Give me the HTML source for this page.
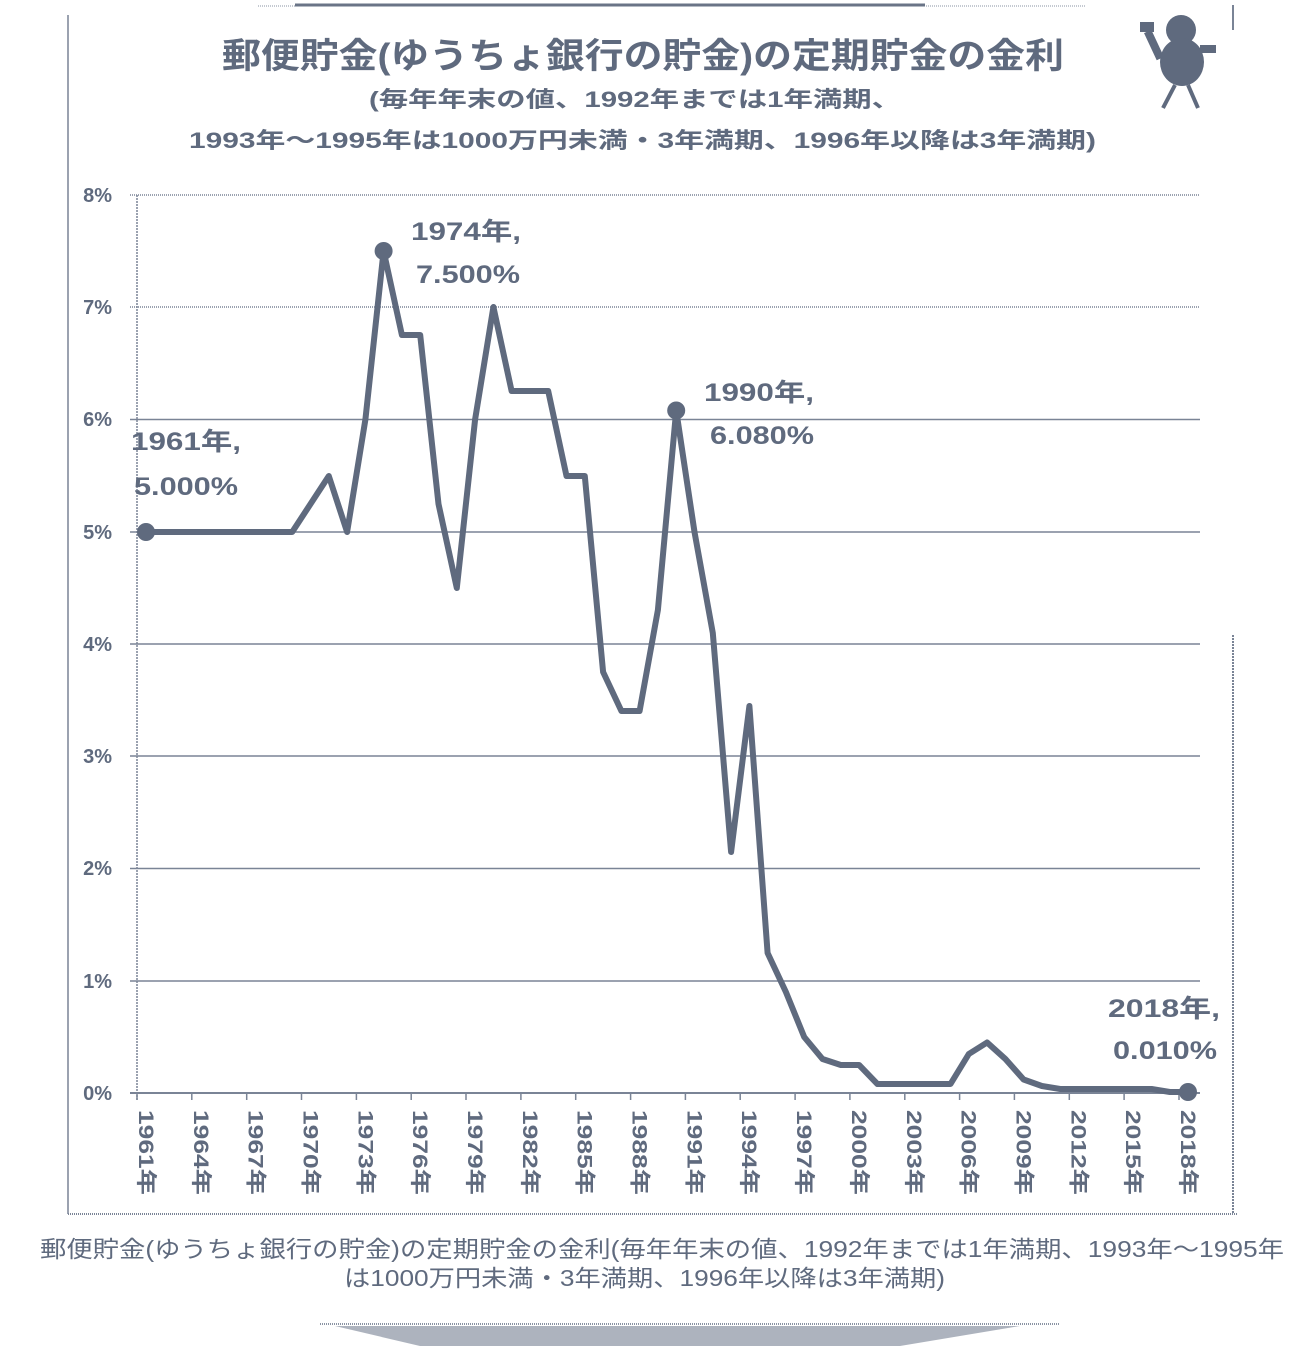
<!DOCTYPE html>
<html><head><meta charset="utf-8"><style>
html,body{margin:0;padding:0;background:#fff;}
body{width:1300px;height:1346px;overflow:hidden;}
svg text{font-family:"Liberation Sans","Noto Sans CJK JP",sans-serif;fill:#5f6a7e;}
</style></head><body>
<svg width="1300" height="1346" viewBox="0 0 1300 1346" xmlns="http://www.w3.org/2000/svg">
<rect width="1300" height="1346" fill="#fff"/>
<!-- frame -->
<line x1="258" y1="6" x2="1085" y2="6" stroke="#8a93a3" stroke-width="1" stroke-dasharray="1 1"/>
<line x1="295" y1="5" x2="925" y2="5" stroke="#6a7487" stroke-width="3"/>
<line x1="68" y1="15" x2="68" y2="1214" stroke="#7a8496" stroke-width="1.5"/>
<line x1="68" y1="1214" x2="1237" y2="1214" stroke="#7a8496" stroke-width="2" stroke-dasharray="1 1"/>
<line x1="1233" y1="635" x2="1233" y2="1214" stroke="#7a8496" stroke-width="2" stroke-dasharray="2 1"/>
<line x1="1233" y1="5" x2="1233" y2="30" stroke="#7a8496" stroke-width="2"/>
<!-- titles -->
<text x="222" y="68" font-size="35" font-weight="bold" textLength="842" lengthAdjust="spacingAndGlyphs">郵便貯金(ゆうちょ銀行の貯金)の定期貯金の金利</text>
<text x="369" y="107" font-size="22" font-weight="bold" textLength="532" lengthAdjust="spacingAndGlyphs">(毎年年末の値、1992年までは1年満期、</text>
<text x="189" y="148" font-size="22" font-weight="bold" textLength="907" lengthAdjust="spacingAndGlyphs">1993年～1995年は1000万円未満・3年満期、1996年以降は3年満期)</text>
<!-- mascot -->
<g fill="#5f6a7e">
<ellipse cx="1181" cy="30" rx="15" ry="15"/>
<ellipse cx="1182" cy="62" rx="22" ry="24"/>
<rect x="1140" y="22" width="14" height="10"/>
<rect x="1150" y="30" width="8" height="30" transform="rotate(-25 1154 45)"/>
<rect x="1200" y="45" width="16" height="8"/>
<line x1="1175" y1="85" x2="1163" y2="108" stroke="#5f6a7e" stroke-width="4"/>
<line x1="1188" y1="85" x2="1198" y2="108" stroke="#5f6a7e" stroke-width="4"/>
</g>
<!-- gridlines -->
<g stroke="#7a8496" stroke-width="1.5">
<line x1="130" y1="195" x2="1200" y2="195" stroke-dasharray="1 1"/>
<line x1="130" y1="307" x2="1200" y2="307" stroke-dasharray="1 1"/>
<line x1="130" y1="419.5" x2="1200" y2="419.5"/>
<line x1="130" y1="532" x2="1200" y2="532"/>
<line x1="130" y1="644" x2="1200" y2="644"/>
<line x1="130" y1="756" x2="1200" y2="756"/>
<line x1="130" y1="868.5" x2="1200" y2="868.5"/>
<line x1="130" y1="981" x2="1200" y2="981"/>
<line x1="130" y1="1093" x2="1200" y2="1093" stroke-width="2"/>
<line x1="137" y1="195" x2="137" y2="1100" stroke-dasharray="2 1"/>
</g>
<g stroke="#7a8496" stroke-width="1.5">
<line x1="137" y1="1093" x2="137" y2="1100"/><line x1="191.8" y1="1093" x2="191.8" y2="1100"/><line x1="246.7" y1="1093" x2="246.7" y2="1100"/><line x1="301.5" y1="1093" x2="301.5" y2="1100"/><line x1="356.4" y1="1093" x2="356.4" y2="1100"/><line x1="411.2" y1="1093" x2="411.2" y2="1100"/><line x1="466" y1="1093" x2="466" y2="1100"/><line x1="520.9" y1="1093" x2="520.9" y2="1100"/><line x1="575.7" y1="1093" x2="575.7" y2="1100"/><line x1="630.6" y1="1093" x2="630.6" y2="1100"/><line x1="685.4" y1="1093" x2="685.4" y2="1100"/><line x1="740.2" y1="1093" x2="740.2" y2="1100"/><line x1="795.1" y1="1093" x2="795.1" y2="1100"/><line x1="849.9" y1="1093" x2="849.9" y2="1100"/><line x1="904.8" y1="1093" x2="904.8" y2="1100"/><line x1="959.6" y1="1093" x2="959.6" y2="1100"/><line x1="1014.4" y1="1093" x2="1014.4" y2="1100"/><line x1="1069.3" y1="1093" x2="1069.3" y2="1100"/><line x1="1124.1" y1="1093" x2="1124.1" y2="1100"/><line x1="1179" y1="1093" x2="1179" y2="1100"/>
</g>
<!-- y labels -->
<g font-size="20" font-weight="bold" text-anchor="end">
<text x="112" y="202">8%</text><text x="112" y="314">7%</text><text x="112" y="426">6%</text><text x="112" y="539">5%</text><text x="112" y="651">4%</text><text x="112" y="763">3%</text><text x="112" y="875">2%</text><text x="112" y="988">1%</text><text x="112" y="1100">0%</text>
</g>
<!-- x labels rotated -->
<g font-size="21" font-weight="bold">
<text transform="translate(139,1110) rotate(90)" textLength="85" lengthAdjust="spacingAndGlyphs">1961年</text>
<text transform="translate(193.8,1110) rotate(90)" textLength="85" lengthAdjust="spacingAndGlyphs">1964年</text>
<text transform="translate(248.7,1110) rotate(90)" textLength="85" lengthAdjust="spacingAndGlyphs">1967年</text>
<text transform="translate(303.5,1110) rotate(90)" textLength="85" lengthAdjust="spacingAndGlyphs">1970年</text>
<text transform="translate(358.4,1110) rotate(90)" textLength="85" lengthAdjust="spacingAndGlyphs">1973年</text>
<text transform="translate(413.2,1110) rotate(90)" textLength="85" lengthAdjust="spacingAndGlyphs">1976年</text>
<text transform="translate(468,1110) rotate(90)" textLength="85" lengthAdjust="spacingAndGlyphs">1979年</text>
<text transform="translate(522.9,1110) rotate(90)" textLength="85" lengthAdjust="spacingAndGlyphs">1982年</text>
<text transform="translate(577.7,1110) rotate(90)" textLength="85" lengthAdjust="spacingAndGlyphs">1985年</text>
<text transform="translate(632.6,1110) rotate(90)" textLength="85" lengthAdjust="spacingAndGlyphs">1988年</text>
<text transform="translate(687.4,1110) rotate(90)" textLength="85" lengthAdjust="spacingAndGlyphs">1991年</text>
<text transform="translate(742.2,1110) rotate(90)" textLength="85" lengthAdjust="spacingAndGlyphs">1994年</text>
<text transform="translate(797.1,1110) rotate(90)" textLength="85" lengthAdjust="spacingAndGlyphs">1997年</text>
<text transform="translate(851.9,1110) rotate(90)" textLength="85" lengthAdjust="spacingAndGlyphs">2000年</text>
<text transform="translate(906.8,1110) rotate(90)" textLength="85" lengthAdjust="spacingAndGlyphs">2003年</text>
<text transform="translate(961.6,1110) rotate(90)" textLength="85" lengthAdjust="spacingAndGlyphs">2006年</text>
<text transform="translate(1016.4,1110) rotate(90)" textLength="85" lengthAdjust="spacingAndGlyphs">2009年</text>
<text transform="translate(1071.3,1110) rotate(90)" textLength="85" lengthAdjust="spacingAndGlyphs">2012年</text>
<text transform="translate(1126.1,1110) rotate(90)" textLength="85" lengthAdjust="spacingAndGlyphs">2015年</text>
<text transform="translate(1181,1110) rotate(90)" textLength="85" lengthAdjust="spacingAndGlyphs">2018年</text>
</g>
<!-- series -->
<polyline fill="none" stroke="#5f6a7e" stroke-width="6" stroke-linejoin="round" points="146,532 292.2,532 310.5,504 328.8,476 347.1,532 365.4,419.5 383.6,251 401.9,335 420.2,335 438.5,504 456.8,588 475.1,419.5 493.4,307 511.6,391 529.9,391 548.2,391 566.5,476 584.8,476 603.1,672 621.4,711 639.6,711 657.9,610 676.2,410.5 694.5,532 712.8,633 731.1,852 749.4,706 767.6,953 785.9,992 804.2,1037 822.5,1059 840.8,1065 859.1,1065 877.4,1084 950.5,1084 968.8,1054 987.1,1042.5 1005.4,1059 1023.6,1079.5 1041.9,1086 1060.2,1089 1151.6,1089 1169.9,1092 1188,1092"/>
<g fill="#5f6a7e">
<circle cx="146" cy="532" r="9"/><circle cx="383.6" cy="251" r="9"/><circle cx="676.2" cy="410.5" r="9"/><circle cx="1188" cy="1092" r="9"/>
</g>
<!-- data labels -->
<g font-size="25" font-weight="bold">
<text x="131" y="450" textLength="110" lengthAdjust="spacingAndGlyphs">1961年,</text><text x="134" y="495" textLength="104" lengthAdjust="spacingAndGlyphs">5.000%</text>
<text x="411" y="240" textLength="110" lengthAdjust="spacingAndGlyphs">1974年,</text><text x="416" y="283" textLength="104" lengthAdjust="spacingAndGlyphs">7.500%</text>
<text x="704" y="401" textLength="110" lengthAdjust="spacingAndGlyphs">1990年,</text><text x="710" y="444" textLength="104" lengthAdjust="spacingAndGlyphs">6.080%</text>
<text x="1108" y="1017" textLength="112" lengthAdjust="spacingAndGlyphs">2018年,</text><text x="1113" y="1059" textLength="104" lengthAdjust="spacingAndGlyphs">0.010%</text>
</g>
<!-- caption -->
<g font-size="23">
<text x="40" y="1257" textLength="1244" lengthAdjust="spacingAndGlyphs">郵便貯金(ゆうちょ銀行の貯金)の定期貯金の金利(毎年年末の値、1992年までは1年満期、1993年～1995年</text>
<text x="344" y="1286" textLength="601" lengthAdjust="spacingAndGlyphs">は1000万円未満・3年満期、1996年以降は3年満期)</text>
</g>
<line x1="320" y1="1324" x2="1060" y2="1324" stroke="#8a93a3" stroke-width="2" stroke-dasharray="1 1"/>
<polygon points="335,1326 1020,1326 900,1346 420,1346" fill="#8a93a3" opacity="0.7"/>
</svg>
</body></html>
